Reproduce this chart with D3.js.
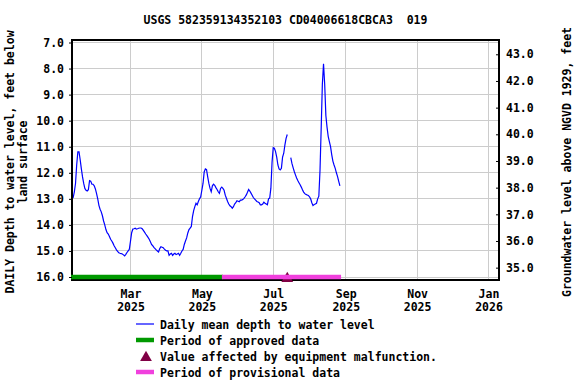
<!DOCTYPE html>
<html>
<head>
<meta charset="utf-8">
<script src="https://cdn.jsdelivr.net/npm/d3@7"></script>
<style>
	body { margin: 0; background: #fff; }
	text { font-family: "DejaVu Sans Mono", monospace; font-weight: bold; font-size: 11.5px; fill: #000; }
</style>
</head>
<body>
<div id="vis-proper"></div>
<script>
// daily mean depth to water (ft below land surface), one value per day from startDate
const startDate = "2025-01-10";
const depthFt = [
	// Jan 10 - 31
	13.0, 12.95, 12.73, 12.41, 11.7, 11.2, 11.2, 11.5, 11.85, 12.16, 12.41, 12.6, 12.67, 12.7, 12.65, 12.3, 12.32, 12.44, 12.44, 12.5, 12.62, 12.8,
	// Feb
	13.0, 13.25, 13.4, 13.5, 13.65, 13.85, 14.0, 14.18, 14.3, 14.35, 14.45, 14.55, 14.62, 14.7, 14.8, 14.88, 14.96, 15.02, 15.07, 15.09, 15.1, 15.12, 15.15, 15.19, 15.13, 15.06, 15.0, 14.94,
	// Mar
	14.62, 14.3, 14.16, 14.15, 14.13, 14.16, 14.15, 14.13, 14.12, 14.12, 14.15, 14.21, 14.28, 14.35, 14.41, 14.48, 14.55, 14.65, 14.75, 14.8, 14.86, 14.91, 14.96, 15.0, 15.04, 14.91, 14.84, 14.86, 14.88, 14.93, 14.97,
	// Apr
	15.0, 15.0, 15.17, 15.12, 15.09, 15.17, 15.12, 15.09, 15.14, 15.12, 15.09, 15.17, 15.09, 15.0, 14.94, 14.75, 14.62, 14.5, 14.31, 14.18, 14.12, 14.06, 13.68, 13.45, 13.3, 13.17, 13.23, 13.1, 13.0, 12.92,
	// May
	12.67, 12.41, 11.97, 11.85, 11.88, 12.16, 12.41, 12.6, 12.73, 12.5, 12.44, 12.48, 12.57, 12.64, 12.73, 12.79, 12.6, 12.55, 12.6, 12.67, 12.86, 12.98, 13.1, 13.2, 13.27, 13.3, 13.36, 13.3, 13.2, 13.15, 13.07,
	// Jun
	13.09, 13.11, 13.05, 13.05, 13.03, 12.98, 12.92, 12.85, 12.75, 12.64, 12.7, 12.78, 12.86, 12.95, 13.0, 13.05, 13.1, 13.12, 13.15, 13.23, 13.23, 13.2, 13.13, 13.17, 13.2, 13.23, 13.0, 12.97, 12.59, 11.6,
	// Jul
	11.04, 11.06, 11.19, 11.4, 11.7, 11.85, 11.89, 11.83, 11.4, 11.25, 10.93, 10.68, 10.53, null, null, 11.42, 11.64, 11.8, 11.95, 12.08, 12.2, 12.3, 12.38, 12.46, 12.55, 12.65, 12.74, 12.8, 12.83, 12.85, 12.87,
	// Aug 1 - 27
	12.92, 13.0, 13.15, 13.26, 13.22, 13.2, 13.17, 13.0, 12.9, 11.9, 10.3, 8.6, 7.82, 8.6, 9.8, 10.25, 10.6, 10.8, 11.0, 11.3, 11.55, 11.7, 11.83, 12.0, 12.15, 12.33, 12.5
];

const xDomain = ["2025-01-10", "2026-01-10"];
const approvedPeriod = ["2025-01-10", "2025-05-19"];
const provisionalPeriod = ["2025-05-19", "2025-08-28"];
const malfunctionDates = ["2025-07-13"];
const barDepth = 16.0;

const monthTicks = ["2025-03-01", "2025-05-01", "2025-07-01", "2025-09-01", "2025-11-01", "2026-01-01"];
const depthTicks = [7, 8, 9, 10, 11, 12, 13, 14, 15, 16];
const depthDomain = [6.904, 16.115];
const elevTicks = [35, 36, 37, 38, 39, 40, 41, 42, 43];
const elevDomain = [34.537, 43.536];

const titleText = "USGS 582359134352103 CD04006618CBCA3  019";
const leftLabel = ["DAILY Depth to water level, feet below", "land surface"];
const rightLabel = "Groundwater level above NGVD 1929, feet";
const legendLabels = [
	"Daily mean depth to water level",
	"Period of approved data",
	"Value affected by equipment malfunction.",
	"Period of provisional data"
];

const BLUE = "#0000ff";
const GREEN = "#009900";
const PINK = "#f040dd";
const MAROON = "#800045";

const main = () => {
	draw();
};

const draw = () => {
	const VISUAL_W = 576;
	const VISUAL_H = 384;
	const vis = d3.select("#vis-proper");
	vis.selectAll("*").remove();
	const svg = vis.append("svg")
		.attr("width", VISUAL_W)
		.attr("height", VISUAL_H);

	const plotL = 72, plotR = 499, plotT = 40, plotB = 280;
	const parse = d3.timeParse("%Y-%m-%d");

	const x = d3.scaleTime().domain(xDomain.map(parse)).range([plotL, plotR]);
	const y = d3.scaleLinear().domain(depthDomain).range([plotT, plotB]);
	const yRight = d3.scaleLinear().domain(elevDomain).range([plotB, plotT]);

	// grid
	const grid = svg.append("g").attr("shape-rendering", "crispEdges");
	grid.selectAll(".hgrid")
		.data(depthTicks)
		.join("line")
		.attr("x1", plotL).attr("x2", plotR)
		.attr("y1", d => y(d)).attr("y2", d => y(d))
		.attr("stroke", "#cccccc");
	grid.selectAll(".vgrid")
		.data(monthTicks.map(parse))
		.join("line")
		.attr("x1", d => x(d)).attr("x2", d => x(d))
		.attr("y1", plotT).attr("y2", plotB)
		.attr("stroke", "#cccccc");

	// data line
	const start = parse(startDate);
	const series = depthFt.map((v, i) => ({ date: d3.timeDay.offset(start, i), v }));
	const line = d3.line()
		.defined(d => d.v !== null)
		.x(d => x(d.date))
		.y(d => y(d.v));
	svg.append("path")
		.datum(series)
		.attr("d", line)
		.attr("fill", "none")
		.attr("stroke", BLUE)
		.attr("stroke-width", 1.2);

	// frame
	svg.append("rect")
		.attr("x", plotL).attr("y", plotT)
		.attr("width", plotR - plotL).attr("height", plotB - plotT)
		.attr("fill", "none")
		.attr("stroke", "#000")
		.attr("stroke-width", 2);

	// malfunction marker, sits under the period bars but over the frame
	const tri = d3.symbol(d3.symbolTriangle, 60);
	svg.selectAll(".malf")
		.data(malfunctionDates.map(parse))
		.join("path")
		.attr("d", tri)
		.attr("transform", d => `translate(${x(d)},${y(barDepth) + 1.5})`)
		.attr("fill", MAROON);

	// period bars
	const periods = [
		{ range: approvedPeriod, color: GREEN },
		{ range: provisionalPeriod, color: PINK }
	];
	svg.selectAll(".period")
		.data(periods)
		.join("line")
		.attr("x1", d => x(parse(d.range[0])) - 1)
		.attr("x2", d => x(parse(d.range[1])))
		.attr("y1", y(barDepth)).attr("y2", y(barDepth))
		.attr("stroke", d => d.color)
		.attr("stroke-width", 4.5);

	// left axis
	const leftAxis = svg.append("g")
		.attr("transform", `translate(${plotL},0)`)
		.call(d3.axisLeft(y).tickValues(depthTicks).tickFormat(d3.format(".1f")).tickSizeInner(3).tickSizeOuter(0).tickPadding(5));
	leftAxis.select(".domain").remove();

	// right axis
	const rightAxis = svg.append("g")
		.attr("transform", `translate(${plotR},0)`)
		.call(d3.axisRight(yRight).tickValues(elevTicks).tickFormat(d3.format(".1f")).tickSizeInner(-3).tickSizeOuter(0).tickPadding(7));
	rightAxis.select(".domain").remove();

	// bottom axis, two-line labels
	const bottomAxis = svg.append("g")
		.attr("transform", `translate(0,${plotB})`)
		.call(d3.axisBottom(x).tickValues(monthTicks.map(parse)).tickSize(0).tickFormat(""));
	bottomAxis.select(".domain").remove();
	const fmtMon = d3.timeFormat("%b");
	const fmtYear = d3.timeFormat("%Y");
	bottomAxis.selectAll(".tick text")
		.attr("dy", null)
		.attr("y", null)
		.each(function(d) {
			const t = d3.select(this);
			t.append("tspan").attr("x", 0).attr("y", 18).text(fmtMon(d));
			t.append("tspan").attr("x", 0).attr("y", 30.5).text(fmtYear(d));
		});
	svg.selectAll(".tick text").attr("font-family", null).attr("font-size", null).attr("fill", "#000");

	// title and axis titles
	svg.append("text")
		.attr("x", (plotL + plotR) / 2)
		.attr("y", 24)
		.attr("text-anchor", "middle")
		.attr("xml:space", "preserve")
		.style("white-space", "pre")
		.text(titleText);

	const midY = 162;
	leftLabel.forEach((s, i) => {
		svg.append("text")
			.attr("transform", `translate(${14 + i * 12.5},${midY}) rotate(-90)`)
			.attr("text-anchor", "middle")
			.text(s);
	});
	svg.append("text")
		.attr("transform", `translate(571,${midY}) rotate(-90)`)
		.attr("text-anchor", "middle")
		.text(rightLabel);

	// legend
	const lg = svg.append("g");
	const rowY = i => 329 + i * 16;
	lg.append("line")
		.attr("x1", 136).attr("x2", 154)
		.attr("y1", rowY(0) - 5).attr("y2", rowY(0) - 5)
		.attr("stroke", BLUE).attr("stroke-width", 1.2);
	lg.append("line")
		.attr("x1", 136).attr("x2", 154)
		.attr("y1", rowY(1) - 5).attr("y2", rowY(1) - 5)
		.attr("stroke", GREEN).attr("stroke-width", 4.5);
	lg.append("path")
		.attr("d", tri)
		.attr("transform", `translate(146,${rowY(2) - 3.5})`)
		.attr("fill", MAROON);
	lg.append("line")
		.attr("x1", 136).attr("x2", 154)
		.attr("y1", rowY(3) - 5).attr("y2", rowY(3) - 5)
		.attr("stroke", PINK).attr("stroke-width", 4.5);
	lg.selectAll(".lgtext")
		.data(legendLabels)
		.join("text")
		.attr("x", 160)
		.attr("y", (d, i) => rowY(i))
		.text(d => d);
};

main();
</script>
</body>
</html>
